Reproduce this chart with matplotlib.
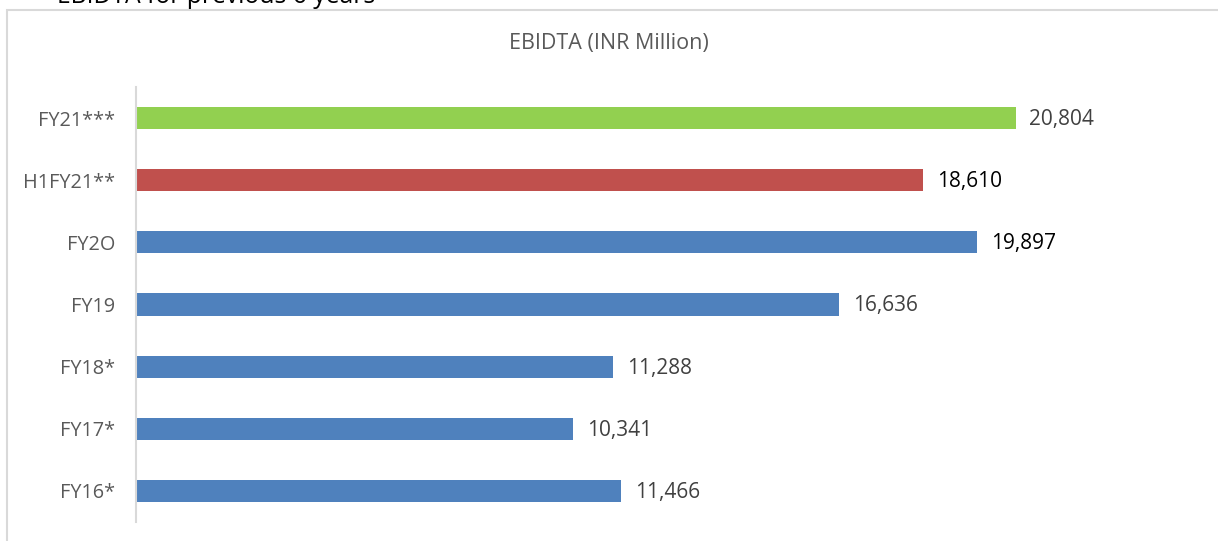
import matplotlib
matplotlib.use("Agg")
import matplotlib.pyplot as plt
from matplotlib.patches import Rectangle

# EBIDTA by period, INR million
categories = ["FY16*", "FY17*", "FY18*", "FY19", "FY2O", "H1FY21**", "FY21***"]
values = [11466, 10341, 11288, 16636, 19897, 18610, 20804]
bar_colors = ["#4F81BD", "#4F81BD", "#4F81BD", "#4F81BD", "#4F81BD", "#C0504D", "#92D050"]
label_colors = ["#404040", "#404040", "#404040", "#404040", "#000000", "#000000", "#404040"]

W, H = 1218, 541
fig = plt.figure(figsize=(W / 100, H / 100), dpi=100)
fig.patch.set_facecolor("white")

# outer chart frame
fig.patches.append(Rectangle((7 / W, -0.05), 1.1, 1 - 10 / H + 0.05,
                             transform=fig.transFigure, fill=False,
                             edgecolor="#D9D9D9", linewidth=1.5, zorder=0))

# heading above the frame
fig.text(57 / W, 1 - 3 / H, "EBIDTA for previous 6 years", fontsize=17.8,
         family="Open Sans", color="#000000", ha="left", va="baseline")

ax = fig.add_axes([136 / W, 1 - 522 / H, 1057 / W, 435 / H])
ax.set_facecolor("none")

ypos = list(range(len(categories)))
ax.barh(ypos, values, height=0.355, color=bar_colors, zorder=2)
ax.set_xlim(0, 25000)
ax.set_ylim(-0.5, len(categories) - 0.5)

for y, v, c in zip(ypos, values, label_colors):
    ax.annotate(f"{v:,}", xy=(v, y), xytext=(10, -1), textcoords="offset points",
                ha="left", va="center", fontsize=15, family="Open Sans", color=c)

ax.set_yticks(ypos)
ax.set_yticklabels(categories, family="Open Sans", fontsize=14.3, color="#595959")
ax.tick_params(axis="y", length=0, pad=15)
ax.set_xticks([])
for side in ["top", "right", "bottom"]:
    ax.spines[side].set_visible(False)
ax.spines["left"].set_color("#D9D9D9")
ax.spines["left"].set_linewidth(1.5)

fig.text(609 / W, 1 - 44 / H, "EBIDTA (INR Million)", fontsize=15.5,
         family="Open Sans", color="#595959", ha="center", va="center")

fig.savefig("out.png", dpi=100, facecolor="white")
